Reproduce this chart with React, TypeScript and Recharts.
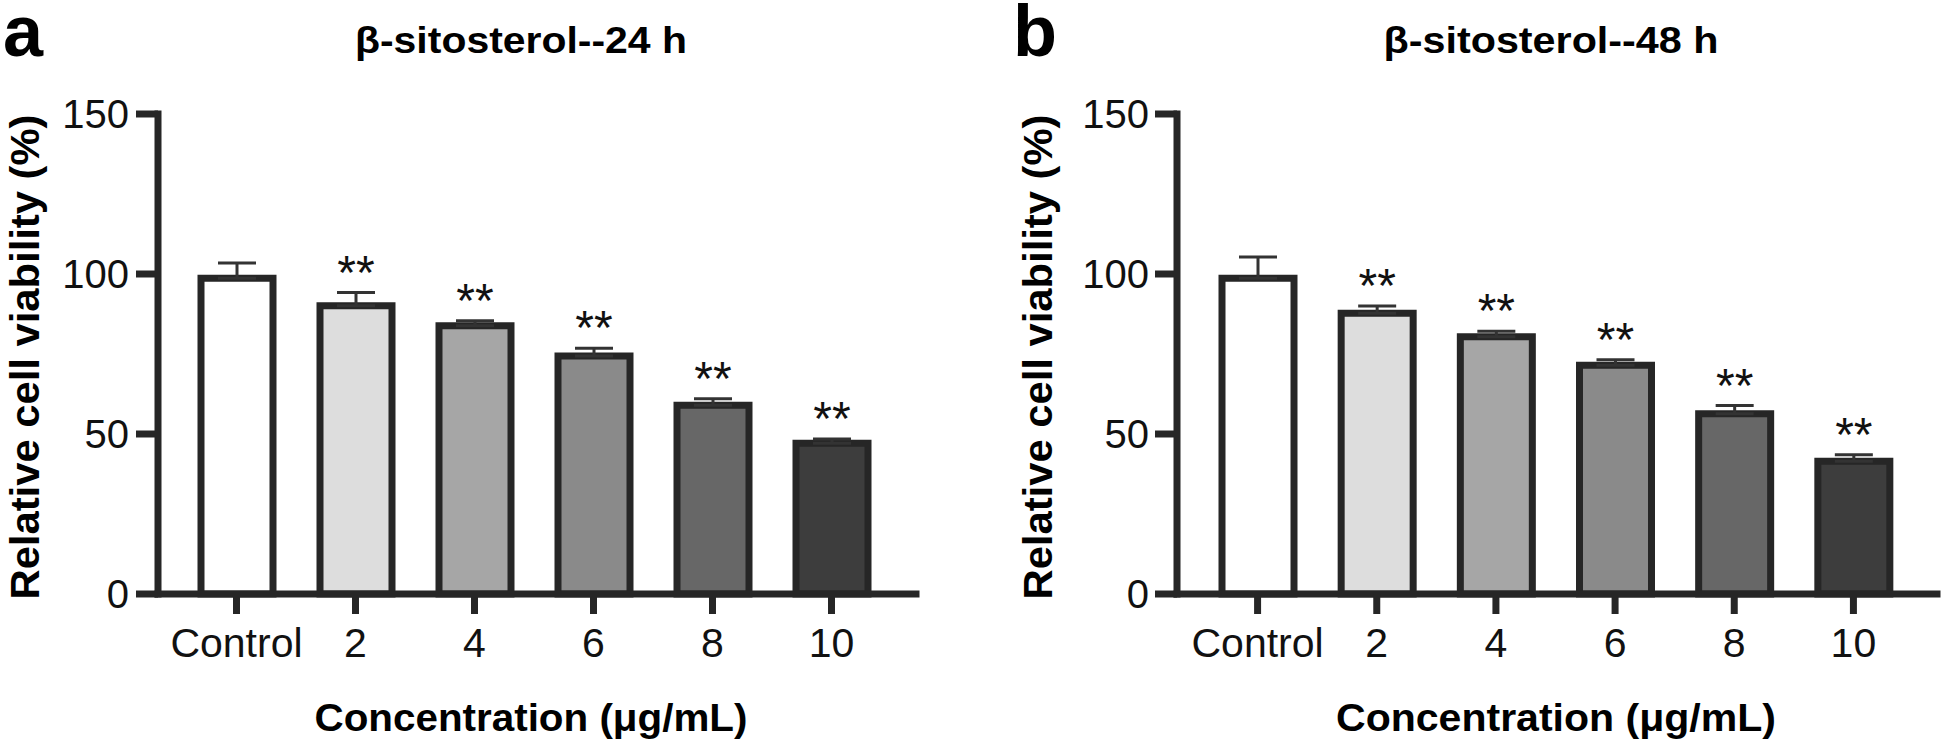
import { BarChart, Bar, XAxis, YAxis, Cell, ErrorBar, LabelList } from "recharts";

const FONT = '"Liberation Sans", Arial, Helvetica, sans-serif';
const INK = "#262626";

const categories: string[] = ["Control", "2", "4", "6", "8", "10"];
const viability24h: number[] = [98.7, 90.1, 83.8, 74.4, 59.0, 47.1];
const sd24h: number[] = [4.7, 4.1, 1.6, 2.4, 2.0, 1.3];
const viability48h: number[] = [98.7, 87.7, 80.4, 71.5, 56.3, 41.5];
const sd48h: number[] = [6.6, 2.3, 1.7, 1.7, 2.6, 2.0];
const significance: string[] = ["", "**", "**", "**", "**", "**"];
const yTicks: number[] = [0, 50, 100, 150];
const barFills: string[] = ["#ffffff", "#dddddd", "#a6a6a6", "#8a8a8a", "#676767", "#3d3d3d"];

interface Row {
  name: string;
  value: number;
  err: [number, number];
  star: string;
}

interface PanelProps {
  letter: string;
  title: string;
  values: number[];
  sds: number[];
  yAxisWidth: number;
  marginRight: number;
  padLeft: number;
  padRight: number;
  letterX: number;
  titleX: number;
  titleLen: number;
  yLabelX: number;
  xLabelX: number;
  xLabelLen: number;
  yTickMargin: number;
}

function Panel(p: PanelProps) {
  const rows: Row[] = categories.map((name, i) => ({
    name,
    value: p.values[i],
    err: [0, p.sds[i]],
    star: significance[i],
  }));

  // stars sit just above the upper error cap
  const renderStar = (props: any) => {
    const { index, value } = props;
    if (!value) return null;
    const vb = props.viewBox ?? props;
    const h = Math.abs(vb.height);
    const top = Math.min(vb.y, vb.y + vb.height);
    const pxPerUnit = h / p.values[index];
    const errTop = top - p.sds[index] * pxPerUnit;
    return (
      <text
        key={`star-${index}`}
        x={vb.x + vb.width / 2}
        y={errTop - 4}
        textAnchor="middle"
        fontSize={48}
        fontFamily={FONT}
        fill="#111"
      >
        {value}
      </text>
    );
  };

  return (
    <div style={{ position: "relative", width: 972, height: 744 }}>
      <BarChart
        width={972}
        height={744}
        data={rows}
        margin={{ top: 114, right: p.marginRight, bottom: 90, left: 0 }}
      >
        <XAxis
          dataKey="name"
          height={60}
          interval={0}
          padding={{ left: p.padLeft, right: p.padRight }}
          tickSize={20}
          tickMargin={14}
          axisLine={{ stroke: INK, strokeWidth: 7, strokeLinecap: "square" }}
          tickLine={{ stroke: INK, strokeWidth: 7 }}
          tick={{ fontSize: 41, fill: "#111", fontFamily: FONT }}
        />
        <YAxis
          type="number"
          domain={[0, 150]}
          ticks={yTicks}
          width={p.yAxisWidth}
          tickSize={22}
          tickMargin={p.yTickMargin}
          axisLine={{ stroke: INK, strokeWidth: 7, strokeLinecap: "square" }}
          tickLine={{ stroke: INK, strokeWidth: 7 }}
          tick={{ fontSize: 40, fill: "#111", fontFamily: FONT }}
        />
        <Bar
          dataKey="value"
          barSize={72}
          stroke={INK}
          strokeWidth={7}
          isAnimationActive={false}
        >
          {rows.map((r, i) => (
            <Cell key={r.name} fill={barFills[i]} />
          ))}
          <ErrorBar
            dataKey="err"
            direction="y"
            width={19}
            stroke="#333"
            strokeWidth={3}
            isAnimationActive={false}
          />
          <LabelList dataKey="star" content={renderStar} />
        </Bar>
      </BarChart>
      <svg
        width={972}
        height={744}
        style={{ position: "absolute", left: 0, top: 0, pointerEvents: "none" }}
        fontFamily={FONT}
      >
        <text x={p.letterX} y={56} fontSize={72} fontWeight="bold" fill="#000">
          {p.letter}
        </text>
        <text
          x={p.titleX}
          y={53}
          fontSize={36}
          fontWeight="bold"
          textAnchor="middle"
          textLength={p.titleLen}
          lengthAdjust="spacingAndGlyphs"
          fill="#000"
        >
          {p.title}
        </text>
        <text
          x={p.yLabelX}
          y={357}
          fontSize={40}
          fontWeight="bold"
          textAnchor="middle"
          textLength={485}
          lengthAdjust="spacingAndGlyphs"
          transform={`rotate(-90, ${p.yLabelX}, 357)`}
          fill="#000"
        >
          Relative cell viability (%)
        </text>
        <text
          x={p.xLabelX}
          y={731}
          fontSize={38}
          fontWeight="bold"
          textAnchor="middle"
          textLength={p.xLabelLen}
          lengthAdjust="spacingAndGlyphs"
          fill="#000"
        >
          Concentration (μg/mL)
        </text>
      </svg>
    </div>
  );
}

export default function App() {
  return (
    <div
      style={{
        position: "absolute",
        left: 0,
        top: 0,
        width: 1944,
        height: 744,
        background: "#fff",
        display: "flex",
      }}
    >
      <Panel
        letter="a"
        title="β-sitosterol--24 h"
        values={viability24h}
        sds={sd24h}
        yAxisWidth={158}
        marginRight={56}
        padLeft={19}
        padRight={25}
        letterX={3}
        titleX={521}
        titleLen={332}
        yLabelX={39}
        xLabelX={531}
        xLabelLen={433}
        yTickMargin={7}
      />
      <Panel
        letter="b"
        title="β-sitosterol--48 h"
        values={viability48h}
        sds={sd48h}
        yAxisWidth={205}
        marginRight={7}
        padLeft={21}
        padRight={24}
        letterX={41}
        titleX={579}
        titleLen={335}
        yLabelX={80}
        xLabelX={584}
        xLabelLen={440}
        yTickMargin={6}
      />
    </div>
  );
}
